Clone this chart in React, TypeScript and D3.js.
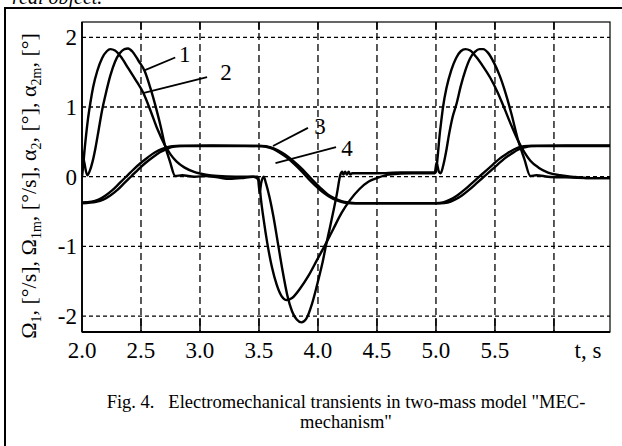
import React, { useRef, useEffect } from "react";
import * as d3 from "d3";

// Tick values and labels
const xTicks = [2.0, 2.5, 3.0, 3.5, 4.0, 4.5, 5.0, 5.5];
const xGrid = [2.5, 3.0, 3.5, 4.0, 4.5, 5.0, 5.5, 6.0];
const yTicks = [2, 1, 0, -1, -2];

// Curve 1: Omega1 (later peak, sharp return to zero)
const curve1: [number, number][] = [
  [2.0, 0.38], [2.02, 0.2], [2.045, 0.02], [2.065, 0.08], [2.09, 0.22], [2.115, 0.42],
  [2.14, 0.66], [2.17, 0.95], [2.2, 1.18], [2.24, 1.45], [2.28, 1.65], [2.32, 1.77],
  [2.36, 1.83], [2.39, 1.84], [2.43, 1.79], [2.48, 1.66], [2.53, 1.52], [2.58, 1.27],
  [2.63, 0.97], [2.67, 0.7], [2.7, 0.47], [2.745, 0.22], [2.79, 0.01], [2.85, 0.02],
  [2.95, 0.0], [3.05, 0.01], [3.15, -0.01], [3.25, -0.03], [3.35, -0.02], [3.45, 0.0],
  [3.49, 0.0], [3.505, -0.22], [3.52, -0.08], [3.54, 0.0], [3.56, -0.1], [3.59, -0.3],
  [3.62, -0.55], [3.66, -0.95], [3.7, -1.35], [3.74, -1.7], [3.78, -1.93], [3.82, -2.05],
  [3.86, -2.09], [3.9, -2.04], [3.95, -1.82], [4.0, -1.5], [4.04, -1.22], [4.07, -0.97],
  [4.1, -0.74], [4.13, -0.5], [4.16, -0.25], [4.19, 0.03], [4.205, 0.07], [4.215, 0.03],
  [4.23, 0.07], [4.245, 0.03], [4.26, 0.07], [4.275, 0.03], [4.29, 0.05], [4.5, 0.05],
  [4.7, 0.06], [4.9, 0.06], [4.99, 0.06], [5.005, 0.2], [5.025, 0.07], [5.04, 0.05],
  [5.06, 0.15], [5.085, 0.35], [5.11, 0.6], [5.14, 0.85], [5.175, 1.05], [5.21, 1.3],
  [5.25, 1.53], [5.29, 1.7], [5.33, 1.79], [5.37, 1.83], [5.4, 1.83], [5.44, 1.78],
  [5.49, 1.64], [5.54, 1.45], [5.59, 1.2], [5.64, 0.9], [5.695, 0.53], [5.75, 0.25],
  [5.8, 0.01], [5.85, 0.02], [5.95, 0.0], [6.1, -0.01], [6.3, -0.02], [6.475, -0.02],
];

// Curve 2: Omega1m (earlier peak, smooth decay)
const curve2: [number, number][] = [
  [2.0, 0.0], [2.01, 0.15], [2.02, 0.35], [2.035, 0.6], [2.05, 0.82], [2.07, 1.05],
  [2.095, 1.29], [2.13, 1.52], [2.17, 1.7], [2.21, 1.8], [2.24, 1.83], [2.28, 1.81],
  [2.33, 1.72], [2.39, 1.56], [2.45, 1.4], [2.52, 1.2], [2.58, 0.95], [2.64, 0.68],
  [2.7, 0.46], [2.75, 0.32], [2.8, 0.22], [2.87, 0.13], [2.95, 0.07], [3.05, 0.03],
  [3.15, 0.01], [3.3, 0.0], [3.45, 0.0], [3.5, -0.05], [3.515, -0.3], [3.54, -0.62],
  [3.57, -0.95], [3.61, -1.3], [3.65, -1.55], [3.69, -1.71], [3.735, -1.77], [3.78, -1.74],
  [3.85, -1.6], [3.92, -1.42], [3.99, -1.2], [4.07, -0.95], [4.13, -0.75], [4.2, -0.52],
  [4.27, -0.34], [4.35, -0.18], [4.43, -0.07], [4.5, -0.02], [4.6, 0.03], [4.8, 0.05],
  [4.99, 0.05], [5.0, 0.07], [5.015, 0.3], [5.03, 0.58], [5.045, 0.8], [5.06, 1.0],
  [5.09, 1.28], [5.13, 1.53], [5.17, 1.7], [5.21, 1.8], [5.25, 1.83], [5.29, 1.81],
  [5.34, 1.72], [5.4, 1.58], [5.46, 1.42], [5.52, 1.22], [5.58, 0.98], [5.64, 0.73],
  [5.695, 0.52], [5.75, 0.35], [5.8, 0.23], [5.87, 0.13], [5.95, 0.06], [6.05, 0.02],
  [6.15, 0.0], [6.3, -0.02], [6.475, -0.02],
];

// Curve 3: alpha2
const curve3: [number, number][] = [
  [2.0, -0.37], [2.08, -0.36], [2.14, -0.33], [2.2, -0.27], [2.26, -0.19], [2.32, -0.09],
  [2.38, 0.01], [2.44, 0.11], [2.5, 0.2], [2.56, 0.28], [2.62, 0.35], [2.68, 0.4],
  [2.74, 0.43], [2.8, 0.44], [3.1, 0.45], [3.5, 0.44], [3.56, 0.43], [3.62, 0.4],
  [3.68, 0.34], [3.74, 0.27], [3.8, 0.18], [3.86, 0.08], [3.92, -0.03], [3.98, -0.13],
  [4.04, -0.22], [4.1, -0.29], [4.16, -0.34], [4.22, -0.37], [4.28, -0.38], [4.7, -0.38],
  [5.0, -0.38], [5.06, -0.37], [5.12, -0.33], [5.18, -0.27], [5.24, -0.19], [5.3, -0.1],
  [5.36, -0.01], [5.42, 0.08], [5.48, 0.17], [5.54, 0.26], [5.6, 0.33], [5.66, 0.39],
  [5.72, 0.43], [5.78, 0.44], [6.1, 0.45], [6.475, 0.45],
];

// Curve 4: alpha2m
const curve4: [number, number][] = [
  [2.0, -0.38], [2.12, -0.36], [2.18, -0.33], [2.24, -0.27], [2.3, -0.19], [2.36, -0.09],
  [2.42, 0.01], [2.48, 0.11], [2.54, 0.2], [2.6, 0.28], [2.66, 0.35], [2.72, 0.4],
  [2.77, 0.43], [2.83, 0.44], [3.1, 0.44], [3.52, 0.44], [3.6, 0.42], [3.66, 0.38],
  [3.72, 0.32], [3.78, 0.24], [3.84, 0.15], [3.9, 0.05], [3.96, -0.06], [4.02, -0.16],
  [4.08, -0.25], [4.14, -0.31], [4.2, -0.35], [4.26, -0.37], [4.32, -0.38], [5.04, -0.38],
  [5.1, -0.37], [5.16, -0.33], [5.22, -0.27], [5.28, -0.19], [5.34, -0.1], [5.4, -0.01],
  [5.46, 0.08], [5.52, 0.17], [5.58, 0.26], [5.64, 0.33], [5.7, 0.39], [5.75, 0.42],
  [5.81, 0.44], [6.475, 0.44],
];

const curves = [curve1, curve2, curve3, curve4];

// Curve number labels with leader lines (data units)
const labelNames = ["1", "2", "3", "4"];
const leaderFrom: [number, number][] = [[2.534, 1.53], [2.517, 1.2], [3.619, 0.44], [3.64, 0.195]];
const leaderTo: [number, number][] = [[2.79, 1.71], [3.06, 1.43], [3.915, 0.7], [4.153, 0.426]];
const labelAt: [number, number][] = [[2.87, 1.76], [3.22, 1.5], [4.017, 0.727], [4.246, 0.412]];

const yLabelParts = [
  ["Ω", false], ["1", true], [", [°/s], Ω", false], ["1m", true], [", [°/s], α", false],
  ["2", true], [", [°], α", false], ["2m", true], [", [°]", false],
] as [string, boolean][];

const App = () => {
  const svgRef = useRef<SVGSVGElement>(null);

  useEffect(() => {
    const width = 622;
    const height = 446;
    const left = 82;
    const right = 610;
    const top = 22;
    const bottom = 332;
    const font = "'Liberation Serif', 'Times New Roman', serif";

    const svg = d3.select(svgRef.current).attr("width", width).attr("height", height);
    svg.selectAll("*").remove();

    const x = d3.scaleLinear().domain([2, 6.475]).range([left, right]);
    const y = d3
      .scaleLinear()
      .domain([(176.7 - bottom) / 69.7, (176.7 - top) / 69.7])
      .range([bottom, top]);

    svg.append("rect").attr("width", width).attr("height", height).attr("fill", "#fff");

    // cut-off text from the page above
    svg
      .append("text")
      .attr("x", 12)
      .attr("y", 4)
      .attr("font-family", font)
      .attr("font-style", "italic")
      .attr("font-size", 20)
      .text("real object.");

    // outer frame
    svg
      .append("rect")
      .attr("x", 5)
      .attr("y", 8)
      .attr("width", 700)
      .attr("height", 600)
      .attr("fill", "none")
      .attr("stroke", "#000")
      .attr("stroke-width", 2);

    // grid
    const grid = svg.append("g");
    grid
      .selectAll()
      .data(yTicks)
      .join("line")
      .attr("x1", left)
      .attr("x2", right)
      .attr("y1", (d) => y(d))
      .attr("y2", (d) => y(d))
      .attr("stroke", "#000")
      .attr("stroke-width", 1.3)
      .attr("stroke-dasharray", "4,3");
    grid
      .selectAll()
      .data(xGrid)
      .join("line")
      .attr("x1", (d) => x(d))
      .attr("x2", (d) => x(d))
      .attr("y1", top)
      .attr("y2", bottom)
      .attr("stroke", "#000")
      .attr("stroke-width", 1.3)
      .attr("stroke-dasharray", "7,4");

    // ticks inside at bottom and top
    grid
      .selectAll()
      .data(xGrid)
      .join("line")
      .attr("x1", (d) => x(d))
      .attr("x2", (d) => x(d))
      .attr("y1", bottom)
      .attr("y2", bottom - 14)
      .attr("stroke", "#000")
      .attr("stroke-width", 1.5);
    grid
      .selectAll()
      .data(xGrid)
      .join("line")
      .attr("x1", (d) => x(d))
      .attr("x2", (d) => x(d))
      .attr("y1", top)
      .attr("y2", top + 8)
      .attr("stroke", "#000")
      .attr("stroke-width", 1.5);

    // plot frame
    svg
      .append("rect")
      .attr("x", left)
      .attr("y", top)
      .attr("width", right - left)
      .attr("height", bottom - top)
      .attr("fill", "none")
      .attr("stroke", "#000")
      .attr("stroke-width", 1.2);
    svg
      .append("line")
      .attr("x1", left)
      .attr("x2", right)
      .attr("y1", bottom)
      .attr("y2", bottom)
      .attr("stroke", "#000")
      .attr("stroke-width", 2.2);
    svg
      .append("line")
      .attr("x1", left)
      .attr("x2", left)
      .attr("y1", top)
      .attr("y2", bottom)
      .attr("stroke", "#000")
      .attr("stroke-width", 1.8);

    // curves
    svg
      .append("clipPath")
      .attr("id", "plotClip")
      .append("rect")
      .attr("x", left)
      .attr("y", top)
      .attr("width", right - left)
      .attr("height", bottom - top);
    const line = d3
      .line<[number, number]>()
      .x((d) => x(d[0]))
      .y((d) => y(d[1]))
      .curve(d3.curveMonotoneX);
    svg
      .append("g")
      .attr("clip-path", "url(#plotClip)")
      .selectAll()
      .data(curves)
      .join("path")
      .attr("d", (d) => line(d))
      .attr("fill", "none")
      .attr("stroke", "#000")
      .attr("stroke-width", 2.4)
      .attr("stroke-linejoin", "round");

    // leaders and labels
    svg
      .append("g")
      .selectAll()
      .data(labelNames)
      .join("line")
      .attr("x1", (d, i) => x(leaderFrom[i][0]))
      .attr("y1", (d, i) => y(leaderFrom[i][1]))
      .attr("x2", (d, i) => x(leaderTo[i][0]))
      .attr("y2", (d, i) => y(leaderTo[i][1]))
      .attr("stroke", "#000")
      .attr("stroke-width", 1.8);
    svg
      .append("g")
      .selectAll()
      .data(labelNames)
      .join("text")
      .attr("x", (d, i) => x(labelAt[i][0]))
      .attr("y", (d, i) => y(labelAt[i][1]) + 8)
      .attr("text-anchor", "middle")
      .attr("font-family", font)
      .attr("font-size", 23)
      .text((d) => d);

    // axis tick labels
    svg
      .append("g")
      .selectAll()
      .data(xTicks)
      .join("text")
      .attr("x", (d) => x(d))
      .attr("y", 358)
      .attr("text-anchor", "middle")
      .attr("font-family", font)
      .attr("font-size", 23)
      .text((d) => d.toFixed(1));
    svg
      .append("text")
      .attr("x", 588)
      .attr("y", 358)
      .attr("text-anchor", "middle")
      .attr("font-family", font)
      .attr("font-size", 23)
      .text("t, s");
    svg
      .append("g")
      .selectAll()
      .data(yTicks)
      .join("text")
      .attr("x", 77)
      .attr("y", (d) => y(d) + 8)
      .attr("text-anchor", "end")
      .attr("font-family", font)
      .attr("font-size", 23)
      .text((d) => String(d));

    // rotated y label with subscripts
    const yl = svg
      .append("text")
      .attr("transform", "translate(36,186) rotate(-90)")
      .attr("text-anchor", "middle")
      .attr("font-family", font)
      .attr("font-size", 22);
    let shifted = false;
    yLabelParts.forEach(([txt, sub]) => {
      const ts = yl.append("tspan").text(txt);
      if (sub && !shifted) {
        ts.attr("dy", 5);
        shifted = true;
      } else if (!sub && shifted) {
        ts.attr("dy", -5);
        shifted = false;
      }
      if (sub) ts.attr("font-size", 14);
    });

    // caption
    const cap = svg
      .append("text")
      .attr("text-anchor", "middle")
      .attr("font-family", font)
      .attr("font-size", 18.5)
      .style("white-space", "pre");
    cap.append("tspan").attr("x", 346).attr("y", 408).text('Fig. 4.   Electromechanical transients in two-mass model "MEC-');
    cap.append("tspan").attr("x", 346).attr("y", 428).text('mechanism"');
  }, []);

  return (
    <div style={{ position: "absolute", left: 0, top: 0 }}>
      <svg ref={svgRef} style={{ display: "block" }}></svg>
    </div>
  );
};

export default App;
